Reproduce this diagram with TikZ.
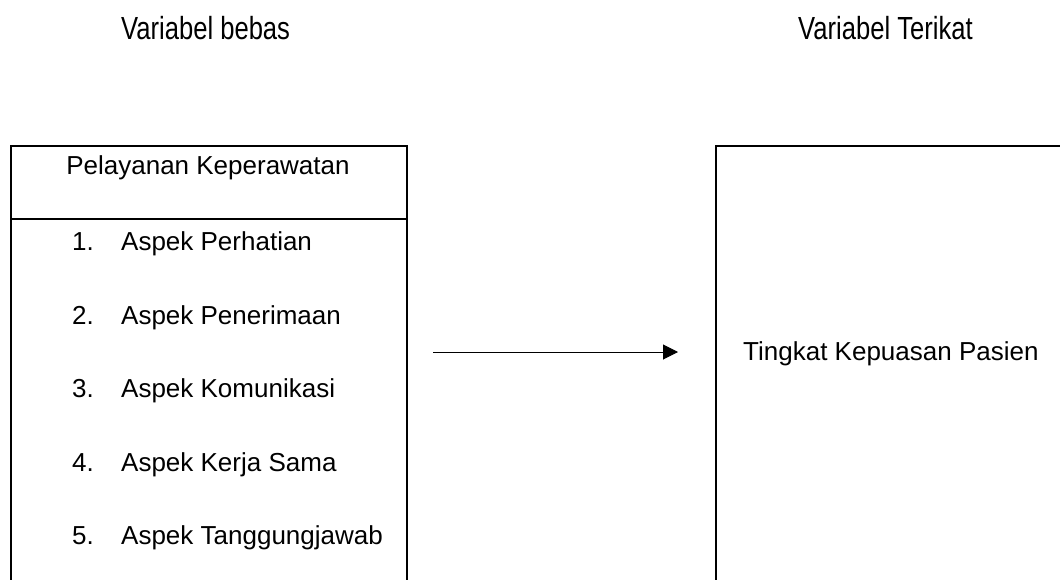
\documentclass[tikz,border=0pt]{standalone}
\usepackage{fontspec}
\setmainfont{Liberation Sans}
\usetikzlibrary{arrows.meta}
\tikzset{
  txt/.style={inner sep=0pt, anchor=base west, font=\fontsize{26}{30}\selectfont},
  head/.style={inner sep=0pt, anchor=base west, font=\fontsize{32}{36}\selectfont},
  frame/.style={draw, line width=2pt, anchor=north west, inner sep=0pt},
  link/.style={line width=1pt, -{Triangle[length=15pt,width=15pt]}}
}
\newcommand{\narrow}[1]{\scalebox{0.8}[1]{#1}}
\begin{document}
\begin{tikzpicture}[x=1pt,y=-1pt]
  \useasboundingbox (0,0) rectangle (1060,580);
  \clip (0,0) rectangle (1060,580);
  \fill[white] (0,0) rectangle (1060,580);

  % column headings
  \node[head] (hbebas) at (121,40) {\narrow{Variabel bebas}};
  \node[head] (hterikat) at (798,40) {\narrow{Variabel Terikat}};

  % independent variable box (runs past the lower edge)
  \node[frame, minimum width=396pt, minimum height=470pt] (bebas) at (10,145) {};
  \coordinate (div) at (0,219);
  \draw[line width=2pt] (bebas.west |- div) -- (bebas.east |- div);
  \node[txt, anchor=base] (judul) at (208,175) {Pelayanan Keperawatan};

  \node[txt] (n1) at (72,251) {1.};
  \node[txt] (i1) at (121,251) {Aspek Perhatian};
  \node[txt] (n2) at (72,324) {2.};
  \node[txt] (i2) at (121,324) {Aspek Penerimaan};
  \node[txt] (n3) at (72,397) {3.};
  \node[txt] (i3) at (121,397) {Aspek Komunikasi};
  \node[txt] (n4) at (72,471) {4.};
  \node[txt] (i4) at (121,471) {Aspek Kerja Sama};
  \node[txt] (n5) at (72,544) {5.};
  \node[txt] (i5) at (121,544) {Aspek Tanggungjawab};

  % dependent variable box (runs past the right and lower edges)
  \node[frame, minimum width=380pt, minimum height=470pt] (terikat) at (715,145) {};
  \node[txt] (hasil) at (743,360) {Tingkat Kepuasan Pasien};

  % influence arrow
  \coordinate (a0) at (433,352);
  \coordinate (a1) at (678,352);
  \draw[link] (a0) -- (a1);
\end{tikzpicture}
\end{document}
